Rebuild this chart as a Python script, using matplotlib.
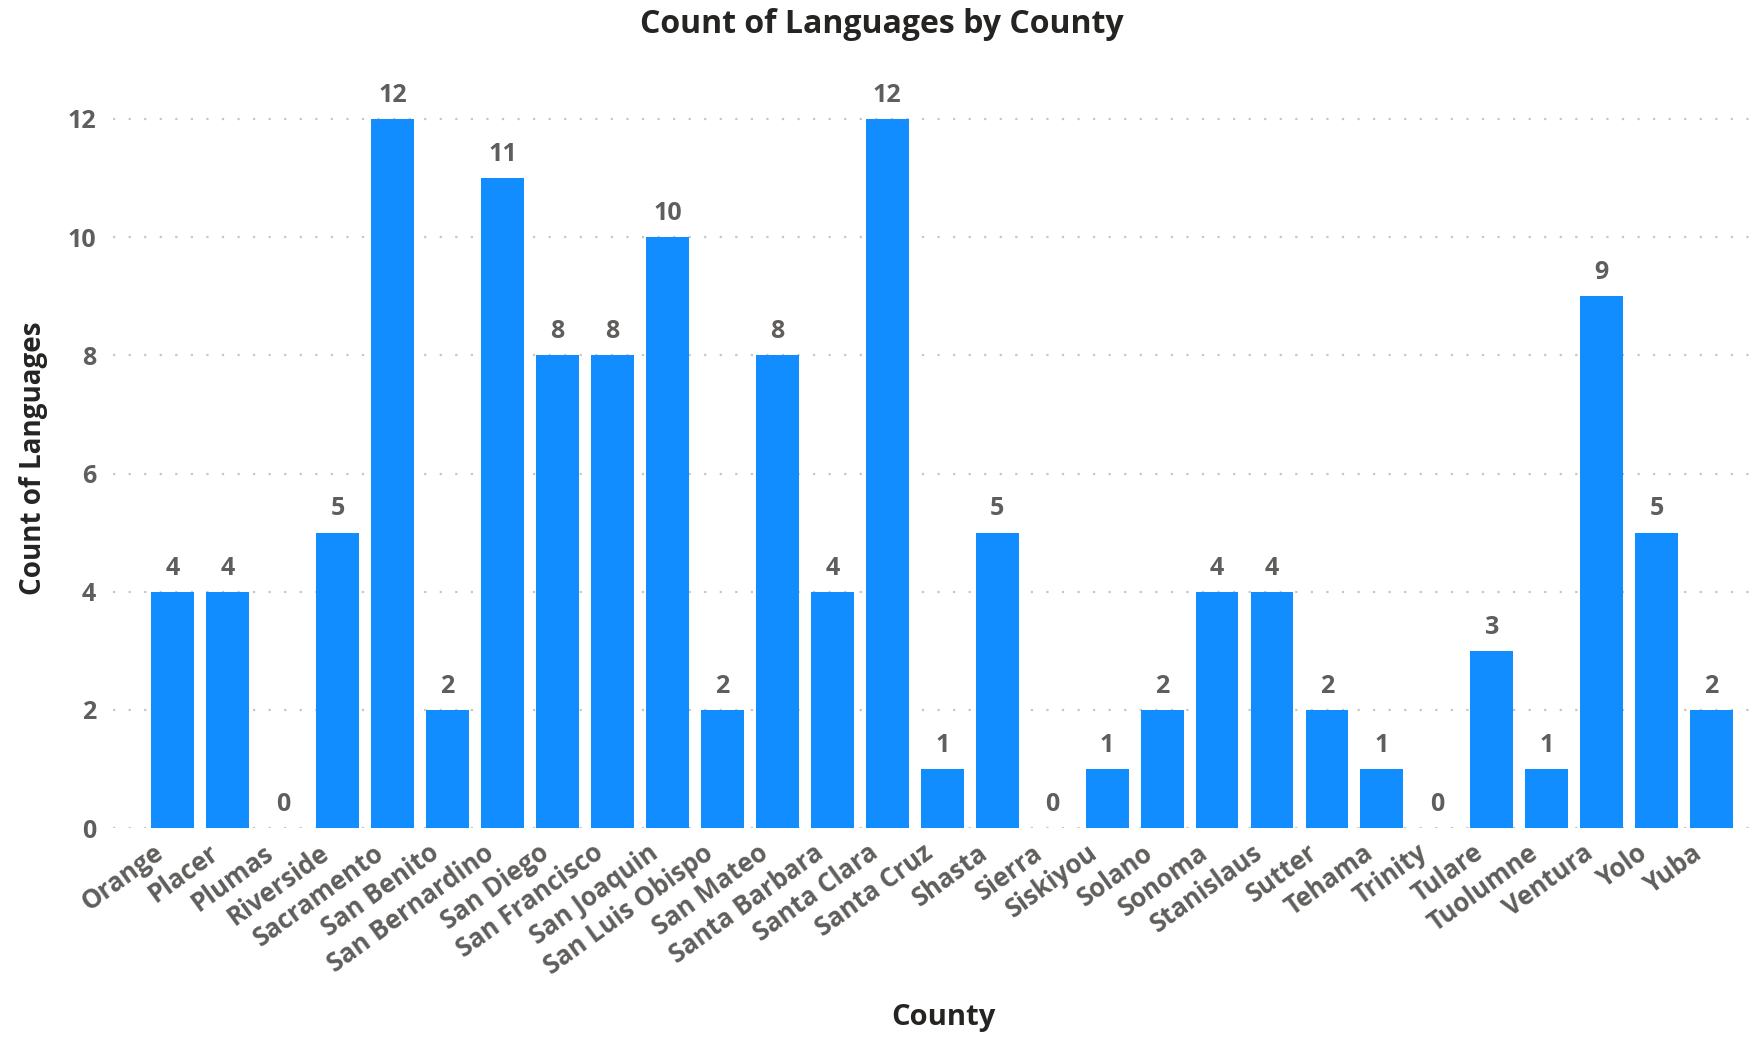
import matplotlib.pyplot as plt
import matplotlib.transforms as mtransforms

counties = ["Orange", "Placer", "Plumas", "Riverside", "Sacramento", "San Benito",
            "San Bernardino", "San Diego", "San Francisco", "San Joaquin",
            "San Luis Obispo", "San Mateo", "Santa Barbara", "Santa Clara",
            "Santa Cruz", "Shasta", "Sierra", "Siskiyou", "Solano", "Sonoma",
            "Stanislaus", "Sutter", "Tehama", "Trinity", "Tulare", "Tuolumne",
            "Ventura", "Yolo", "Yuba"]
languages = [4, 4, 0, 5, 12, 2, 11, 8, 8, 10, 2, 8, 4, 12, 1, 5, 0, 1, 2, 4,
             4, 2, 1, 0, 3, 1, 9, 5, 2]
yticks = [0, 2, 4, 6, 8, 10, 12]

plt.rcParams['font.family'] = ['Open Sans', 'DejaVu Sans']
bar_color = "#118DFF"
label_gray = "#605E5C"
dark = "#252423"

fig = plt.figure(figsize=(17.6, 10.4), dpi=100)
ax = fig.add_axes([0.0642, 0.2038, 0.9308, 0.7102])

x = list(range(len(counties)))
ax.bar(x, languages, width=0.78, color=bar_color, zorder=3)

# value labels above each bar
for xi, v in zip(x, languages):
    ax.annotate(str(v), (xi, v), xytext=(0, 17), textcoords="offset points",
                ha="center", va="center", fontsize=18, fontweight="bold",
                color=label_gray)

ax.set_xlim(-1.09, len(counties) - 1 + 0.72)
ax.set_ylim(0, 12.5)
ax.set_yticks(yticks)
ax.yaxis.grid(True, color="#C8C6C4", linestyle=(0, (1, 6)), linewidth=1.6, zorder=0)
ax.xaxis.grid(False)
for s in ax.spines.values():
    s.set_visible(False)
ax.tick_params(axis="both", length=0)
ax.tick_params(axis="y", pad=12, labelsize=18, labelcolor=label_gray)
for t in ax.get_yticklabels():
    t.set_fontweight("bold")

ax.set_xticks(x)
ax.set_xticklabels(counties, rotation=36, ha="right", va="top",
                   rotation_mode="anchor", fontsize=18.5, fontweight="bold",
                   color=label_gray)
ax.tick_params(axis="x", pad=8)
# nudge the slanted labels left so their ends sit under the bars
shift = mtransforms.ScaledTranslation(-0.2, 0, fig.dpi_scale_trans)
for t in ax.get_xticklabels():
    t.set_transform(t.get_transform() + shift)

ax.set_ylabel("Count of Languages", fontsize=20, fontweight="bold", color=dark, labelpad=14)
fig.text(0.536, 0.022, "County", ha="center", va="center", fontsize=21,
         fontweight="bold", color=dark)
fig.text(0.501, 0.976, "Count of Languages by County", ha="center", va="center",
         fontsize=23, fontweight="bold", color=dark)

fig.savefig("out.png", dpi=100)
